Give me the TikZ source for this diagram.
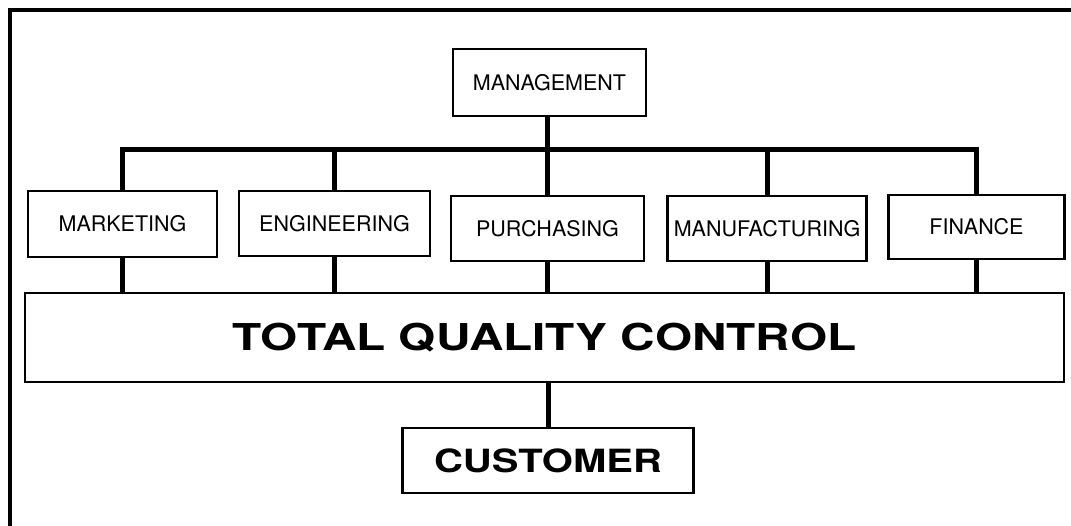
\documentclass[tikz,border=0pt]{standalone}
\usepackage{graphicx}
\usepackage{fontspec}
\setmainfont{TeX Gyre Heros}
\begin{document}
\begin{tikzpicture}[x=1pt,y=-1pt,
  box/.style={draw,line width=2.3pt,inner sep=0pt,font=\fontsize{21.5}{25}\selectfont},
  bigbox/.style={draw,line width=2.3pt,inner sep=0pt,font=\fontsize{37}{40}\selectfont\bfseries},
  conn/.style={line width=5pt,line join=miter},
  frameline/.style={line width=4pt,line join=miter}]
\useasboundingbox (0,0) rectangle (1071,526);
% frame
\coordinate (fTR) at (1071,10);
\coordinate (fTL) at (10,10);
\coordinate (fBL) at (10,526);
\draw[frameline] (fTR) -- (fTL) -- (fBL);
% nodes
\node[box,minimum width=193pt,minimum height=67pt] (mgmt) at (549.5,82.5) {MANAGEMENT};
\node[box,minimum width=189pt,minimum height=66pt] (mkt) at (122.5,224) {MARKETING};
\node[box,minimum width=191pt,minimum height=65pt] (eng) at (334.5,223.5) {ENGINEERING};
\node[box,minimum width=193pt,minimum height=65pt] (pur) at (547.5,228.5) {PURCHASING};
\node[box,minimum width=199pt,minimum height=65pt] (man) at (767,228.5) {MANUFACTURING};
\node[box,minimum width=176pt,minimum height=64pt] (fin) at (976.5,227) {FINANCE};
\node[bigbox,minimum width=1039pt,minimum height=89pt] (tqc) at (544.5,337.5) {\scalebox{1.29}[1]{TOTAL QUALITY CONTROL}};
\node[bigbox,minimum width=291pt,minimum height=65pt,font=\fontsize{32}{36}\selectfont\bfseries] (cust) at (548,460.5) {\scalebox{1.25}[1]{CUSTOMER}};
% bus
\coordinate (bus) at (549,150);
\draw[conn] (mkt.north) -- (mkt.north |- bus) -- (fin.north |- bus) -- (fin.north);
\draw[conn] (eng.north) -- (eng.north |- bus);
\draw[conn] (man.north) -- (man.north |- bus);
\draw[conn] (pur.north |- mgmt.south) -- (pur.north);
% lower connectors
\draw[conn] (mkt.south) -- (mkt.south |- tqc.north);
\draw[conn] (eng.south) -- (eng.south |- tqc.north);
\draw[conn] (pur.south) -- (pur.south |- tqc.north);
\draw[conn] (man.south) -- (man.south |- tqc.north);
\draw[conn] (fin.south) -- (fin.south |- tqc.north);
\draw[conn] (cust.north |- tqc.south) -- (cust.north);
\end{tikzpicture}
\end{document}
